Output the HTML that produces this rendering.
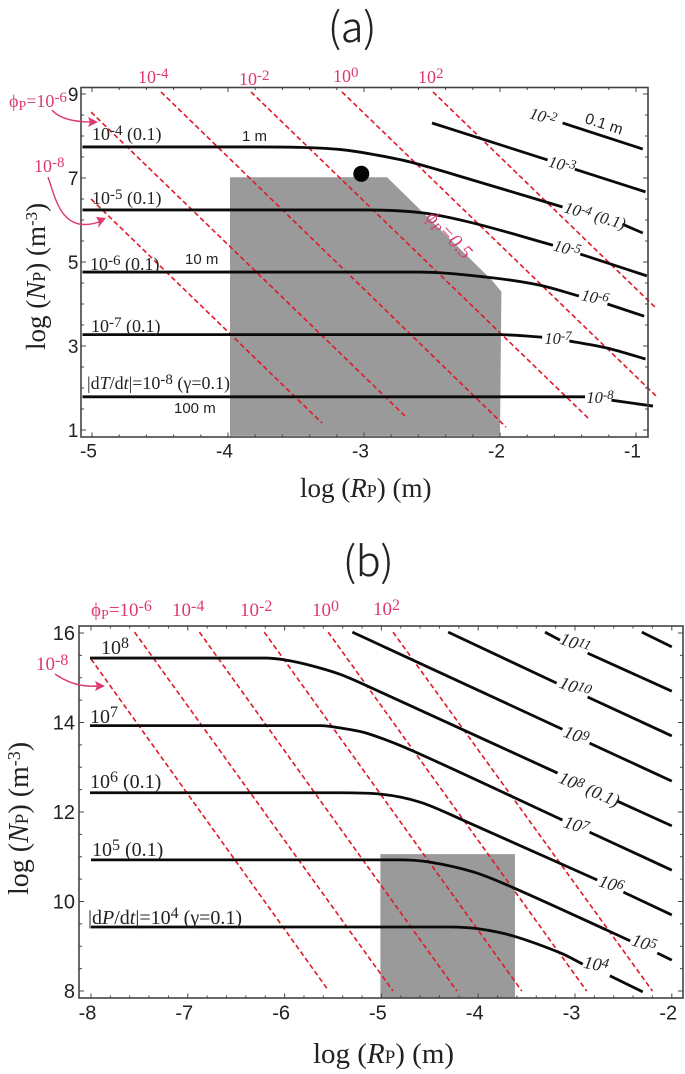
<!DOCTYPE html>
<html lang="en">
<head>
<meta charset="utf-8">
<title>Contour charts of log NP versus log RP</title>
<style>
html,body{margin:0;padding:0;background:#fff;}
#figure{display:block;width:685px;height:1074px;filter:blur(0.35px);}
.s{font-family:"Liberation Serif",serif;}
.h{font-family:"Liberation Sans",sans-serif;}
.k{fill:#222;font-size:18px;}
.p{fill:#dc3a70;font-size:18px;}
.c{fill:#222;font-size:16.5px;font-style:italic;text-anchor:middle;}
.t{fill:#222;stroke:#222;stroke-width:0.3px;font-family:"Noto Sans CJK JP","Liberation Sans",sans-serif;font-size:41px;font-weight:300;}
</style>
</head>
<body>
<svg id="figure" xmlns="http://www.w3.org/2000/svg" width="685" height="1074" viewBox="0 0 685 1074">
<rect width="685" height="1074" fill="#fff"/>
<g id="panelA"></g>
<g id="panelB"></g>

<!-- Panel a text -->
<text class="t" x="328" y="42">(a)</text>
<text class="s" x="300" y="497" font-size="27" fill="#222">log (<tspan font-style="italic">R</tspan><tspan font-size="18">P</tspan>) (m)</text>
<text class="s" transform="translate(45 350) rotate(-90)" font-size="27" fill="#222">log (<tspan font-style="italic">N</tspan><tspan font-size="18">P</tspan>) (m<tspan dy="-8" font-size="17">-3</tspan><tspan dy="8">)</tspan></text>

<text class="s p" x="138" y="83">10<tspan dy="-5" font-size="15">-4</tspan></text>
<text class="s p" x="239" y="85">10<tspan dy="-5" font-size="15">-2</tspan></text>
<text class="s p" x="333" y="82">10<tspan dy="-5" font-size="15">0</tspan></text>
<text class="s p" x="418" y="83">10<tspan dy="-5" font-size="15">2</tspan></text>
<text class="s p" x="9" y="107">&#981;<tspan dy="3" font-size="14">P</tspan><tspan dy="-3">=10</tspan><tspan dy="-5" font-size="15">-6</tspan></text>
<text class="s p" x="34" y="172">10<tspan dy="-5" font-size="15">-8</tspan></text>
<text class="s" fill="#dc3a70" font-size="20" font-style="italic" text-anchor="middle" transform="rotate(47 449 235)" x="449" y="241">&#981;<tspan dy="3" font-size="14">P</tspan><tspan dy="-3">=0.5</tspan></text>

<path d="M52 110 Q62 122 92 122" fill="none" stroke="#dc3a70" stroke-width="1.4"/>
<polygon points="98,122 88,117 90,122 88,127" fill="#dc3a70"/>
<path d="M48 177 C56 200 62 236 102 221" fill="none" stroke="#dc3a70" stroke-width="1.4"/>
<polygon points="106,218 96,217 99,222 98,228" fill="#dc3a70"/>

<text class="s k" x="92" y="140">10<tspan dy="-5" font-size="15">-4</tspan><tspan dy="5"> (0.1)</tspan></text>
<text class="s k" x="92" y="204">10<tspan dy="-5" font-size="15">-5</tspan><tspan dy="5"> (0.1)</tspan></text>
<text class="s k" x="90" y="270">10<tspan dy="-5" font-size="15">-6</tspan><tspan dy="5"> (0.1)</tspan></text>
<text class="s k" x="91" y="332">10<tspan dy="-5" font-size="15">-7</tspan><tspan dy="5"> (0.1)</tspan></text>
<text class="s k" x="87" y="389">|d<tspan font-style="italic">T</tspan>/d<tspan font-style="italic">t</tspan>|=10<tspan dy="-5" font-size="15">-8</tspan><tspan dy="5"> (&#947;=0.1)</tspan></text>
<text class="h" x="242" y="141" font-size="15" fill="#222">1 m</text>
<text class="h" x="185" y="264" font-size="15" fill="#222">10 m</text>
<text class="h" x="174" y="413" font-size="15" fill="#222">100 m</text>
<text class="h" x="604" y="129" font-size="15.5" fill="#222" text-anchor="middle" transform="rotate(18 604 124)">0.1 m</text>

<text class="s c" x="543" y="122" transform="rotate(16 543 117)">10<tspan dy="-4" font-size="13">-2</tspan></text>
<text class="s c" x="562" y="170" transform="rotate(14 562 165)">10<tspan dy="-4" font-size="13">-3</tspan></text>
<text class="s c" x="595" y="221" transform="rotate(16 595 216)">10<tspan dy="-4" font-size="13">-4</tspan><tspan dy="4"> (0.1)</tspan></text>
<text class="s c" x="567" y="254" transform="rotate(15 567 249)">10<tspan dy="-4" font-size="13">-5</tspan></text>
<text class="s c" x="595" y="303" transform="rotate(12 595 298)">10<tspan dy="-4" font-size="13">-6</tspan></text>
<text class="s c" x="558" y="344">10<tspan dy="-4" font-size="13">-7</tspan></text>
<text class="s c" x="600" y="403">10<tspan dy="-4" font-size="13">-8</tspan></text>

<!-- Panel b text -->
<text class="t" x="343" y="576">(b)</text>
<text class="s" x="313" y="1063" font-size="29" fill="#222">log (<tspan font-style="italic">R</tspan><tspan font-size="19">P</tspan>) (m)</text>
<text class="s" transform="translate(28 895) rotate(-90)" font-size="28" fill="#222">log (<tspan font-style="italic">N</tspan><tspan font-size="19">P</tspan>) (m<tspan dy="-8" font-size="18">-3</tspan><tspan dy="8">)</tspan></text>

<text class="s p" x="91" y="616" style="font-size:19px">&#981;<tspan dy="3" font-size="14">P</tspan><tspan dy="-3">=10</tspan><tspan dy="-5" font-size="16">-6</tspan></text>
<text class="s p" x="172" y="616" style="font-size:19px">10<tspan dy="-5" font-size="16">-4</tspan></text>
<text class="s p" x="240" y="616" style="font-size:19px">10<tspan dy="-5" font-size="16">-2</tspan></text>
<text class="s p" x="312" y="616" style="font-size:19px">10<tspan dy="-5" font-size="16">0</tspan></text>
<text class="s p" x="373" y="615" style="font-size:19px">10<tspan dy="-5" font-size="16">2</tspan></text>
<text class="s p" x="36" y="670" style="font-size:19px">10<tspan dy="-5" font-size="16">-8</tspan></text>
<path d="M55 674 Q75 688 98 686" fill="none" stroke="#dc3a70" stroke-width="1.4"/>
<polygon points="105,686 95,681 97,686 95,691" fill="#dc3a70"/>

<text class="s k" x="101" y="654" style="font-size:20px">10<tspan dy="-6" font-size="16">8</tspan></text>
<text class="s k" x="90" y="723" style="font-size:20px">10<tspan dy="-6" font-size="16">7</tspan></text>
<text class="s k" x="90" y="788" style="font-size:20px">10<tspan dy="-6" font-size="16">6</tspan><tspan dy="6"> (0.1)</tspan></text>
<text class="s k" x="92" y="856" style="font-size:20px">10<tspan dy="-6" font-size="16">5</tspan><tspan dy="6"> (0.1)</tspan></text>
<text class="s k" x="88" y="924" style="font-size:20px">|d<tspan font-style="italic">P</tspan>/d<tspan font-style="italic">t</tspan>|=10<tspan dy="-6" font-size="16">4</tspan><tspan dy="6"> (&#947;=0.1)</tspan></text>

<text class="s c" x="596" y="970" transform="rotate(10 596 965)" style="font-size:18px">10<tspan dy="-4" font-size="14">4</tspan></text>
<text class="s c" x="644" y="949" transform="rotate(18 644 944)" style="font-size:18px">10<tspan dy="-4" font-size="14">5</tspan></text>
<text class="s c" x="611" y="890" transform="rotate(18 611 885)" style="font-size:18px">10<tspan dy="-4" font-size="14">6</tspan></text>
<text class="s c" x="576" y="831" transform="rotate(18 576 826)" style="font-size:18px">10<tspan dy="-4" font-size="14">7</tspan></text>
<text class="s c" x="589" y="795" transform="rotate(23 589 790)" style="font-size:18px">10<tspan dy="-4" font-size="14">8</tspan><tspan dy="4"> (0.1)</tspan></text>
<text class="s c" x="576" y="741" transform="rotate(20 576 736)" style="font-size:18px">10<tspan dy="-4" font-size="14">9</tspan></text>
<text class="s c" x="575" y="693" transform="rotate(20 575 688)" style="font-size:18px">10<tspan dy="-4" font-size="14">10</tspan></text>
<text class="s c" x="575" y="649" transform="rotate(20 575 644)" style="font-size:18px">10<tspan dy="-4" font-size="14">11</tspan></text>
</svg>

<script>
// ---------- Panel (a) data: log RP (R) and log NP (N); null breaks a line at its inline label ----------
const aTickLabelsX = [-5, -4, -3, -2, -1];
const aTickLabelsY = [9, 7, 5, 3, 1];
const aRegionR = [-3.985, -2.83, -2.06, -1.99, -2.0, -3.985];
const aRegionN = [7.02, 7.02, 4.57, 4.29, 0.86, 0.86];
const aDotR = [-3.02];
const aDotN = [7.10];

const aPhiExponents = [-8, -6, -4, -2, 0, 2];
const aPhiStartR = [-5.007, -5.007, -4.493, -3.831, -3.162, -2.493];
const aPhiStartN = [6.50, 8.57, 9.05, 9.05, 9.05, 9.05];
const aPhiEndR = [-3.309, -2.691, -1.956, -1.338, -0.846, -0.846];
const aPhiEndN = [1.167, 1.31, 1.07, 1.24, 1.79, 3.88];

const aE4R = [-5.07, -3.8, -3.47, -3.18, -2.93, -2.66, -2.20, -1.54, null, -1.10, -0.95];
const aE4N = [7.74, 7.74, 7.73, 7.68, 7.56, 7.38, 6.95, 6.31, null, 5.90, 5.69];
const aE5R = [-5.07, -3.0, -2.57, -2.20, -1.61, null, -1.41, -0.92];
const aE5N = [6.24, 6.24, 6.17, 5.93, 5.40, null, 5.19, 4.67];
const aE6R = [-5.07, -2.6, -2.10, -1.71, -1.42, null, -1.21, -0.94];
const aE6N = [4.76, 4.76, 4.64, 4.45, 4.19, null, 4.0, 3.71];
const aE7R = [-5.07, -2.0, -1.69, null, -1.49, -1.21, -0.93];
const aE7N = [3.27, 3.27, 3.21, null, 3.12, 2.95, 2.69];
const aE8R = [-5.07, -1.375, null, -1.18, -0.875];
const aE8N = [1.79, 1.79, null, 1.71, 1.57];
const aE3R = [-2.5, -1.65, null, -1.45, -0.93];
const aE3N = [8.31, 7.43, null, 7.21, 6.67];
const aE2R = [-1.54, -0.95];
const aE2N = [8.31, 7.69];

// ---------- Panel (b) data ----------
const bTickLabelsX = [-8, -7, -6, -5, -4, -3, -2];
const bTickLabelsY = [16, 14, 12, 10, 8];
const bRegionR = [-5.01, -3.62, -3.62, -5.01];
const bRegionN = [11.06, 11.06, 7.84, 7.84];

const bPhiExponents = [-8, -6, -4, -2, 0, 2];
const bPhiStartR = [-8.0, -7.55, -6.88, -6.21, -5.55, -4.88];
const bPhiStartN = [15.42, 16.02, 16.02, 16.02, 16.02, 16.02];
const bPhiEndR = [-5.55, -4.88, -4.22, -3.55, -2.88, -2.20];
const bPhiEndN = [8.02, 8.0, 8.0, 8.0, 8.0, 8.0];

const bP8R = [-8.01, -6.2, -6.0, -5.74, -5.43, -5.15, -3.18, null, -2.57, -2.0];
const bP8N = [15.44, 15.44, 15.40, 15.28, 15.08, 14.82, 12.87, null, 12.25, 11.69];
const bP7R = [-8.01, -5.63, -5.43, -5.15, -4.67, -3.13, null, -2.85, -2.0];
const bP7N = [13.93, 13.93, 13.88, 13.76, 13.36, 11.82, null, 11.55, 10.70];
const bP6R = [-8.01, -5.43, -5.01, -4.60, -4.16, -2.77, null, -2.50, -2.0];
const bP6N = [12.43, 12.43, 12.40, 12.22, 11.82, 10.48, null, 10.21, 9.70];
const bP5R = [-8.0, -4.81, -4.50, -4.05, -3.65, -2.67, -2.43, null, -2.15, -2.0];
const bP5N = [10.93, 10.93, 10.88, 10.66, 10.32, 9.36, 9.12, null, 8.85, 8.69];
const bP4R = [-8.0, -4.29, -4.0, -3.64, -3.15, -2.92, null, -2.64, -2.30];
const bP4N = [9.43, 9.43, 9.39, 9.23, 8.85, 8.60, null, 8.34, 7.98];
const bL9R = [-5.30, -3.13, null, -2.85, -2.0];
const bL9N = [16.02, 13.85, null, 13.54, 12.69];
const bL10R = [-4.31, -3.19, null, -2.87, -2.0];
const bL10N = [16.02, 14.88, null, 14.57, 13.70];
const bL11R = [-3.31, -3.155, null, -2.87, -2.0];
const bL11N = [16.02, 15.84, null, 15.55, 14.70];
const bL12R = [-2.31, -2.0];
const bL12N = [16.02, 15.69];

// ---------- Axis functions ----------
const axA = v => 636 + (v + 1) * 136;
const ayA = v => 430 - (v - 1) * 42;
const axB = v => 91 + (v + 8) * 96.8;
const ayB = v => 991 - (v - 8) * 44.75;

const NS = 'http://www.w3.org/2000/svg';

function make(parent, tag, name, attrs) {
  const el = document.createElementNS(NS, tag);
  
  
  for (const k in attrs) el.setAttribute(k, attrs[k]);
  parent.appendChild(el);
  return el;
}

// Smooth cubic path through one unbroken run, using chord tangents limited to stay monotone
function smoothRun(pts) {
  let d = 'M' + pts[0][0].toFixed(2) + ' ' + pts[0][1].toFixed(2);
  const n = pts.length;
  if (n === 2) return d + 'L' + pts[1][0].toFixed(2) + ' ' + pts[1][1].toFixed(2);
  const s = [];
  for (let i = 0; i < n - 1; i++) s.push((pts[i + 1][1] - pts[i][1]) / (pts[i + 1][0] - pts[i][0]));
  const m = [s[0]];
  for (let i = 1; i < n - 1; i++) {
    if (s[i - 1] * s[i] <= 0) { m.push(0); continue; }
    const chord = (pts[i + 1][1] - pts[i - 1][1]) / (pts[i + 1][0] - pts[i - 1][0]);
    m.push(Math.sign(chord) * Math.min(Math.abs(chord), 3 * Math.min(Math.abs(s[i - 1]), Math.abs(s[i]))));
  }
  m.push(s[n - 2]);
  for (let i = 0; i < n - 1; i++) {
    const h = (pts[i + 1][0] - pts[i][0]) / 3;
    d += 'C' + (pts[i][0] + h).toFixed(2) + ' ' + (pts[i][1] + m[i] * h).toFixed(2) + ' ' +
      (pts[i + 1][0] - h).toFixed(2) + ' ' + (pts[i + 1][1] - m[i + 1] * h).toFixed(2) + ' ' +
      pts[i + 1][0].toFixed(2) + ' ' + pts[i + 1][1].toFixed(2);
  }
  return d;
}

function contour(parent, name, rs, ns, ax, ay) {
  let run = [], d = '';
  for (let i = 0; i <= rs.length; i++) {
    if (i === rs.length || rs[i] === null) {
      if (run.length) d += smoothRun(run);
      run = [];
    } else {
      run.push([ax(rs[i]), ay(ns[i])]);
    }
  }
  make(parent, 'path', name, {d: d, fill: 'none', stroke: '#0a0a0a', 'stroke-width': 2.8, 'stroke-linecap': 'butt'});
}

function region(parent, name, rs, ns, ax, ay) {
  const pts = rs.map((r, i) => ax(r).toFixed(1) + ',' + ay(ns[i]).toFixed(1)).join(' ');
  make(parent, 'polygon', name, {points: pts, fill: '#9a9a9a'});
}

function phiLines(parent, prefix, exps, r0, n0, r1, n1, ax, ay) {
  exps.forEach((e, i) => {
    make(parent, 'line', prefix + '-phi-line-1e' + e, {
      x1: ax(r0[i]), y1: ay(n0[i]), x2: ax(r1[i]), y2: ay(n1[i]),
      stroke: '#e0182a', 'stroke-width': 1.6, 'stroke-dasharray': '5 3'
    });
  });
}

function axes(parent, prefix, box, ax, ay, xLabels, yLabels, fs, yGap) {
  const xMin = xLabels[0], xMax = xLabels[xLabels.length - 1];
  const yMin = yLabels[yLabels.length - 1], yMax = yLabels[0];
  const stroke = '#444';
  for (let k = 0; k <= (xMax - xMin) * 5; k++) {
    const v = xMin + k / 5, major = k % 5 === 0, len = major ? 4.5 : 2.5, x = ax(v);
    make(parent, 'line', prefix + '-x-tick-bottom', {x1: x, x2: x, y1: box.b, y2: box.b - len, stroke: stroke, 'stroke-width': 1});
    make(parent, 'line', prefix + '-x-tick-top', {x1: x, x2: x, y1: box.t, y2: box.t + len, stroke: stroke, 'stroke-width': 1});
  }
  for (let k = 0; k <= (yMax - yMin) * 2; k++) {
    const v = yMin + k / 2, major = k % 4 === 0, len = major ? 5 : 3, y = ay(v);
    make(parent, 'line', prefix + '-y-tick-left', {x1: box.l, x2: box.l + len, y1: y, y2: y, stroke: stroke, 'stroke-width': 1});
    make(parent, 'line', prefix + '-y-tick-right', {x1: box.r, x2: box.r - len, y1: y, y2: y, stroke: stroke, 'stroke-width': 1});
  }
  make(parent, 'rect', prefix + '-frame', {x: box.l, y: box.t, width: box.r - box.l, height: box.b - box.t, fill: 'none', stroke: stroke, 'stroke-width': 1.6});
  xLabels.forEach(v => {
    const t = make(parent, 'text', prefix + '-x-tick-label', {x: ax(v) - 3.5, y: box.b + fs + 1.5, 'text-anchor': 'middle', class: 'h', 'font-size': fs, fill: '#222'});
    t.textContent = String(v);
  });
  yLabels.forEach(v => {
    const t = make(parent, 'text', prefix + '-y-tick-label', {x: box.l - yGap, y: ay(v) + fs * 0.36, 'text-anchor': 'end', class: 'h', 'font-size': fs, fill: '#222'});
    t.textContent = String(v);
  });
}

// ---------- Draw panel (a) ----------
const gA = document.getElementById('panelA');
region(gA, 'measured-region-a', aRegionR, aRegionN, axA, ayA);
phiLines(gA, 'panel-a', aPhiExponents, aPhiStartR, aPhiStartN, aPhiEndR, aPhiEndN, axA, ayA);
contour(gA, 'contour-a-1e-4', aE4R, aE4N, axA, ayA);
contour(gA, 'contour-a-1e-5', aE5R, aE5N, axA, ayA);
contour(gA, 'contour-a-1e-6', aE6R, aE6N, axA, ayA);
contour(gA, 'contour-a-1e-7', aE7R, aE7N, axA, ayA);
contour(gA, 'contour-a-1e-8', aE8R, aE8N, axA, ayA);
contour(gA, 'contour-a-1e-3', aE3R, aE3N, axA, ayA);
contour(gA, 'contour-a-1e-2', aE2R, aE2N, axA, ayA);
make(gA, 'circle', 'marker-dot-a', {cx: axA(aDotR[0]), cy: ayA(aDotN[0]), r: 8, fill: '#050505'});
axes(gA, 'panel-a', {l: 81, t: 87.5, r: 648, b: 437}, axA, ayA, aTickLabelsX, aTickLabelsY, 19, 2.5);

// ---------- Draw panel (b) ----------
const gB = document.getElementById('panelB');
region(gB, 'measured-region-b', bRegionR, bRegionN, axB, ayB);
phiLines(gB, 'panel-b', bPhiExponents, bPhiStartR, bPhiStartN, bPhiEndR, bPhiEndN, axB, ayB);
contour(gB, 'contour-b-1e8', bP8R, bP8N, axB, ayB);
contour(gB, 'contour-b-1e7', bP7R, bP7N, axB, ayB);
contour(gB, 'contour-b-1e6', bP6R, bP6N, axB, ayB);
contour(gB, 'contour-b-1e5', bP5R, bP5N, axB, ayB);
contour(gB, 'contour-b-1e4', bP4R, bP4N, axB, ayB);
contour(gB, 'contour-b-1e9', bL9R, bL9N, axB, ayB);
contour(gB, 'contour-b-1e10', bL10R, bL10N, axB, ayB);
contour(gB, 'contour-b-1e11', bL11R, bL11N, axB, ayB);
contour(gB, 'contour-b-1e12', bL12R, bL12N, axB, ayB);
axes(gB, 'panel-b', {l: 79, t: 626, r: 683, b: 998}, axB, ayB, bTickLabelsX, bTickLabelsY, 20, 4);
</script>
</body>
</html>
